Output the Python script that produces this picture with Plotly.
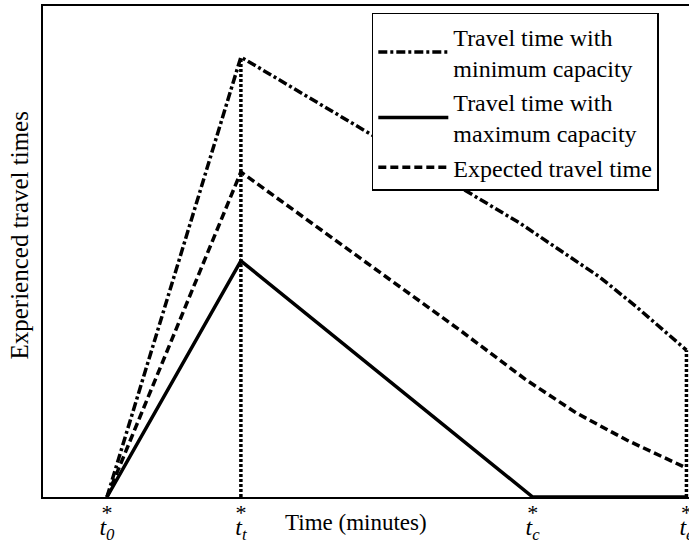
import plotly.graph_objects as go

# Key time instants (x positions, arbitrary minutes)
T0, TT, TC, TE = 10.0, 30.94, 76.56, 100.6
tick_vals = [T0, TT, TC, TE]
tick_subs = ["0", "t", "c", "e"]

# Travel time with minimum capacity (dash-dot)
min_x = [T0, TT, 65.16, 74.53, 80.78, 87.03, 92.81, 97.5, TE]
min_y = [0, 89.6, 63.1, 55.8, 50.3, 44.8, 38.7, 33.4, 29.9]

# Travel time with maximum capacity (solid)
max_x = [T0, TT, TC, TE]
max_y = [0, 48.1, 0, 0]

# Expected travel time (dashed)
exp_x = [T0, TT, 65.16, 75.6, 83.4, 91.25, TE]
exp_y = [0, 66.2, 34.0, 23.8, 17.1, 11.6, 5.9]

# Vertical reference lines (dotted)
vt_x = [TT, TT]
vt_y = [0, 89.6]
ve_x = [TE, TE]
ve_y = [0, 29.9]

FONT = "Liberation Serif, Times New Roman, serif"
LW = 3.5

fig = go.Figure()
fig.add_trace(go.Scatter(x=min_x, y=min_y, mode="lines",
                         name="Travel time with<br>minimum capacity",
                         line=dict(color="black", width=LW, dash="9px,3px,3px,3px")))
fig.add_trace(go.Scatter(x=max_x, y=max_y, mode="lines",
                         name="Travel time with<br>maximum capacity",
                         line=dict(color="black", width=LW)))
fig.add_trace(go.Scatter(x=exp_x, y=exp_y, mode="lines",
                         name="Expected travel time",
                         line=dict(color="black", width=LW, dash="8px,4px")))
fig.add_trace(go.Scatter(x=vt_x, y=vt_y, mode="lines", showlegend=False,
                         line=dict(color="black", width=LW, dash="3px,2px")))
fig.add_trace(go.Scatter(x=ve_x, y=ve_y, mode="lines", showlegend=False,
                         line=dict(color="black", width=LW, dash="3px,2px")))
# invisible trace to activate the asterisk axis
fig.add_trace(go.Scatter(x=tick_vals, y=[0] * 4, mode="lines", xaxis="x2",
                         showlegend=False, hoverinfo="skip",
                         line=dict(color="rgba(0,0,0,0)", width=0)))

tick_text = ["<i>t</i><sub><i>%s</i></sub>" % s for s in tick_subs]

fig.update_layout(
    width=689, height=543,
    margin=dict(l=43, r=0, t=6, b=46),
    paper_bgcolor="white", plot_bgcolor="white",
    font=dict(family=FONT, size=23, color="black"),
    showlegend=True,
    legend=dict(x=0.509, y=0.986, xanchor="left", yanchor="top",
                bgcolor="white", bordercolor="black", borderwidth=1.5,
                font=dict(family=FONT, size=24, color="black"),
                itemwidth=70, tracegroupgap=0),
    xaxis=dict(range=[0, 101], showgrid=False, zeroline=False, automargin=False,
               showline=True, linecolor="black", linewidth=1.5, mirror=True,
               tickmode="array", tickvals=tick_vals, ticktext=tick_text,
               ticks="", tickfont=dict(family=FONT, size=24),
               ticklabelstandoff=7, ticklabeloverflow="allow"),
    xaxis2=dict(range=[0, 101], overlaying="x", side="bottom", automargin=False,
                showgrid=False, zeroline=False, showline=False,
                tickmode="array", tickvals=tick_vals,
                ticktext=["*"] * 4, ticks="",
                tickfont=dict(family=FONT, size=22),
                ticklabelstandoff=0, ticklabeloverflow="allow"),
    yaxis=dict(range=[0, 100], showgrid=False, zeroline=False, automargin=False,
               showline=True, linecolor="black", linewidth=1.5, mirror=True,
               showticklabels=False, ticks=""),
    annotations=[
        dict(text="Time (minutes)", xref="paper", yref="paper",
             x=0.485, y=-0.051, xanchor="center", yanchor="middle",
             showarrow=False, font=dict(family=FONT, size=23)),
        dict(text="Experienced travel times", xref="paper", yref="paper",
             x=-0.036, y=0.534, xanchor="center", yanchor="middle",
             textangle=-90, showarrow=False, font=dict(family=FONT, size=25)),
    ],
)

fig.write_html("out.html")
